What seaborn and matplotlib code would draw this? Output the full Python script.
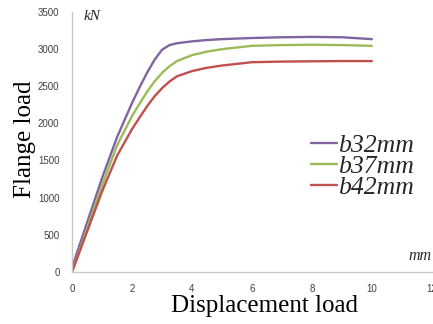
import pandas as pd
import numpy as np
import seaborn as sns
from matplotlib import pyplot as plt

# data
disp = [0, 0.5, 1, 1.5, 2, 2.25, 2.5, 2.75, 3, 3.25, 3.5, 4, 4.5, 5, 6, 7, 8, 9, 10]
load_b32 = [60, 660, 1260, 1810, 2270, 2480, 2676, 2850, 2986, 3050, 3075, 3100, 3118, 3130,
            3145, 3155, 3160, 3155, 3130]
load_b37 = [0, 580, 1160, 1700, 2095, 2260, 2420, 2560, 2675, 2765, 2835, 2915, 2962, 2995,
            3040, 3050, 3055, 3050, 3040]
load_b42 = [0, 540, 1080, 1560, 1920, 2075, 2225, 2360, 2470, 2560, 2630, 2700, 2745, 2775,
            2820, 2828, 2832, 2835, 2835]
series_names = ['b32mm', 'b37mm', 'b42mm']
colors = ['#8064A2', '#9BBB59', '#C0504D']

df = pd.DataFrame({
    'disp': disp * 3,
    'load': load_b32 + load_b37 + load_b42,
    'series': [s for s in series_names for _ in disp]})

sns.set_style('white')

fig = plt.figure(figsize=(4.33, 3.24), dpi=100)
ax = fig.add_axes([0.1663, 0.1605, 0.831, 0.8037])

sns.lineplot(data=df, x='disp', y='load', hue='series', palette=colors,
             linewidth=1.7, ax=ax, sort=False)

ax.set_xlim(0, 12)
ax.set_ylim(0, 3500)
ax.set_xticks(np.arange(0, 13, 2))
ax.set_yticks(np.arange(0, 3501, 500))

# spines and ticks
for side in ['top', 'right']:
    ax.spines[side].set_visible(False)
for side in ['left', 'bottom']:
    ax.spines[side].set_color('#c8c8c8')
    ax.spines[side].set_linewidth(1.0)
ax.tick_params(axis='both', direction='out', length=4, width=0.8, color='#c8c8c8',
               labelsize=7, labelcolor='#404040', pad=5)
for lab in ax.get_xticklabels() + ax.get_yticklabels():
    lab.set_fontfamily('Liberation Sans')

# axis titles
ax.set_xlabel('Displacement load', fontfamily='Liberation Serif', fontsize=18, color='black')
ax.set_ylabel('Flange load', fontfamily='Liberation Serif', fontsize=18, color='black')
ax.xaxis.set_label_coords(0.536, -0.09)
ax.yaxis.set_label_coords(-0.1, 0.511)

# unit texts
ax.text(0.031, 0.968, 'kN', transform=ax.transAxes, fontfamily='Liberation Serif',
        fontstyle='italic', fontsize=11, va='baseline', ha='left')
ax.text(1.0, 0.046, 'mm', transform=ax.transAxes, fontfamily='Liberation Serif',
        fontstyle='italic', fontsize=11.5, va='baseline', ha='right')

# legend
leg = ax.legend(loc='upper left', bbox_to_anchor=(298 / 433, 1 - 121 / 324),
                bbox_transform=fig.transFigure, frameon=False, borderpad=0,
                handlelength=1.0, handletextpad=0.05, labelspacing=-0.08,
                prop={'family': 'Liberation Serif', 'style': 'italic', 'size': 18.5})

fig.savefig('out.png', dpi=100)
